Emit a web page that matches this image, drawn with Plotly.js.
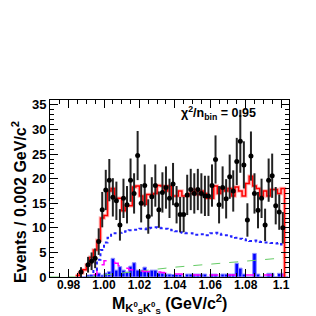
<!DOCTYPE html>
<html>
<head>
<meta charset="utf-8">
<script src="https://cdn.plot.ly/plotly-3.0.1.min.js"></script>
<style>html,body{margin:0;padding:0;background:#fff;}#chart{width:316px;height:316px;}</style>
</head>
<body>
<div id="chart"></div>
<script>
// ---------- data ----------
const binWidth = 0.002;
const binCenters = [0.985, 0.987, 0.989, 0.991, 0.993, 0.995, 0.997, 0.999, 1.001, 1.003,
  1.005, 1.007, 1.009, 1.011, 1.013, 1.015, 1.017, 1.019, 1.021, 1.023,
  1.025, 1.027, 1.029, 1.031, 1.033, 1.035, 1.037, 1.039, 1.041, 1.043,
  1.045, 1.047, 1.049, 1.051, 1.053, 1.055, 1.057, 1.059, 1.061, 1.063,
  1.065, 1.067, 1.069, 1.071, 1.073, 1.075, 1.077, 1.079, 1.081, 1.083,
  1.085, 1.087, 1.089, 1.091, 1.093, 1.095, 1.097, 1.099, 1.101, 1.103];

const dataCounts = [null, 1.0, null, 2.5, 3.2, 3.8, 7.2, 13.7, 17.7, 19.7,
  16.2, 15.5, 10.6, 16.0, 14.7, 19.7, 17.0, 24.7, 15.0, 18.6,
  12.3, 16.3, 18.6, 13.7, 17.2, 18.2, 16.0, 18.9, 14.7, 12.7,
  12.7, 16.7, 17.8, 17.0, 17.8, 17.0, 16.5, 16.5, 18.6, 23.9,
  14.7, 18.2, 15.9, 20.4, 17.5, 23.5, 27.6, 22.8, 11.6, 24.6,
  17.0, 13.6, 16.0, 10.6, 19.7, 20.6, 14.5, 13.2, 10.0, null];

const dataErrors = [null, 1.0, null, 1.6, 1.8, 2.0, 2.7, 3.6, 4.1, 4.3,
  3.9, 3.9, 3.2, 4.0, 3.8, 4.4, 4.1, 5.0, 3.9, 4.3,
  3.5, 4.0, 4.3, 3.7, 4.1, 4.3, 4.0, 4.3, 3.8, 3.6,
  3.6, 4.1, 4.2, 4.1, 4.2, 4.1, 4.1, 4.1, 4.3, 4.9,
  3.8, 4.3, 4.0, 4.5, 4.2, 4.8, 6.4, 4.8, 3.4, 5.0,
  4.1, 3.7, 4.0, 3.3, 4.4, 4.5, 3.8, 3.6, 3.2, null];

const fitTotal = [0.3, 0.8, 1.5, 2.5, 4.0, 5.5, 7.5, 12.0, 12.5, 17.5,
  18.0, 16.0, 16.0, 13.5, 14.5, 14.5, 18.3, 18.5, 16.5, 14.8,
  16.8, 16.8, 17.0, 18.6, 18.5, 17.5, 18.5, 16.5, 16.5, 17.5,
  16.5, 16.5, 17.0, 17.8, 16.8, 17.5, 17.0, 16.0, 16.0, 18.5,
  17.0, 18.0, 17.5, 18.0, 16.5, 18.3, 17.5, 16.5, 19.0, 20.5,
  18.5, 18.0, 16.5, 17.5, 16.5, 17.8, 17.8, 17.0, 18.0, null];

const signalComp = [null, null, null, null, 0.3, 1.5, 3.5, 5.5, 7.0, 8.0,
  8.6, 8.9, 9.0, 9.2, 9.3, 9.5, 9.6, 9.6, 9.8, 9.7,
  9.9, 10.0, 10.1, 10.0, 9.9, 9.8, 9.6, 9.5, 9.3, 9.1,
  9.0, 8.9, 8.9, 8.6, 8.6, 8.7, 8.7, 8.5, 8.9, 9.0,
  8.8, 8.6, 8.5, 8.3, 8.2, 8.0, 7.8, 7.7, 7.5, 7.3,
  7.4, 7.2, 7.1, 7.0, 7.0, 6.9, 6.8, 6.9, 6.6, null];

const magentaComp = [null, null, null, null, null, 0.5, 1.5, 2.5, 3.3, 3.3,
  3.0, 2.8, 2.3, 2.2, 1.8, 1.5, 1.4, 1.3, 1.2, 1.1,
  1.1, 1.0, 1.0, 1.0, 0.9, 0.8, 0.7, 0.7, 0.6, 0.6,
  0.5, 0.5, 0.5, 0.4, 0.4, 0.4, 0.4, 0.4, 0.4, 0.4,
  0.4, 0.4, 0.4, 0.4, 0.4, 0.4, 0.4, 0.4, 0.4, 0.4,
  0.4, 0.4, 0.4, 0.4, 0.4, 0.4, 0.4, 0.4, 0.4, null];

const sidebandBars = [0, 0, 0, 0.4, 0, 0.4, 0.8, 0.4, 0.8, 1.1,
  3.8, 1.4, 2.1, 1.4, 1.0, 2.2, 2.9, 1.4, 1.4, 2.0,
  1.1, 1.4, 1.4, 0.8, 0.8, 0.6, 0.6, 0.5, 0.5, 0.5,
  0, 0.6, 0.6, 0.6, 0.6, 0.6, 0.6, 0, 0.6, 0.6,
  0, 0.6, 0.6, 0.6, 0.6, 2.8, 1.8, 0.6, 0, 0,
  4.8, 0.6, 0, 0, 0.75, 0.75, 0, 0.75, 0.75, 0];

const greenX = [0.9695, 0.993, 1.0, 1.01, 1.02, 1.03, 1.04, 1.05, 1.06, 1.07, 1.08, 1.09, 1.1, 1.102, 1.102];
const greenY = [0, 0, 0.4, 0.75, 1.2, 1.6, 2.0, 2.3, 2.6, 2.9, 3.2, 3.5, 3.8, 3.9, 0];

const xTickVals = [0.98, 1.00, 1.02, 1.04, 1.06, 1.08, 1.10];
const xTickText = ['0.98', '1.00', '1.02', '1.04', '1.06', '1.08', '1.1'];
const yTickVals = [0, 5, 10, 15, 20, 25, 30, 35];

// ---------- helpers ----------
function steps(vals, dropToZero) {
  const xs = [], ys = [];
  let last = -1;
  for (let i = 0; i < vals.length; i++) {
    if (vals[i] === null) continue;
    xs.push(binCenters[i] - binWidth / 2);
    ys.push(vals[i]);
    last = i;
  }
  xs.push(binCenters[last] + binWidth / 2); ys.push(vals[last]);
  if (dropToZero) { xs.push(binCenters[last] + binWidth / 2); ys.push(0); }
  return {x: xs, y: ys};
}

const font = 'Liberation Sans, Arial, Helvetica, sans-serif';
const fitSteps = steps(fitTotal, true);
const sigSteps = steps(signalComp, false);
const magSteps = steps(magentaComp, false);

const traces = [
  {type: 'bar', x: binCenters, y: sidebandBars, width: binWidth,
   marker: {color: '#0000ff', line: {color: '#8f8fff', width: 1}}, hoverinfo: 'skip'},
  {type: 'scatter', mode: 'lines', x: greenX, y: greenY,
   line: {color: '#66cc66', width: 1, dash: 'dash'}},
  {type: 'scatter', mode: 'lines', x: magSteps.x, y: magSteps.y,
   line: {color: '#ff00ff', width: 1.5, dash: 'dash', shape: 'hv'}},
  {type: 'scatter', mode: 'lines', x: sigSteps.x, y: sigSteps.y,
   line: {color: '#2222ff', width: 2, dash: 'dot', shape: 'hv'}},
  {type: 'scatter', mode: 'lines', x: fitSteps.x, y: fitSteps.y,
   line: {color: 'rgba(255,120,120,0.55)', width: 3.5, shape: 'hv'}},
  {type: 'scatter', mode: 'lines', x: fitSteps.x, y: fitSteps.y,
   line: {color: '#ff0000', width: 1.5, shape: 'hv'}},
  {type: 'scatter', mode: 'markers', x: binCenters, y: dataCounts,
   marker: {color: '#000', size: 5},
   error_y: {type: 'data', array: dataErrors, visible: true, color: '#222', thickness: 2, width: 0}}
];

const axisCommon = {
  showline: true, linecolor: '#000', linewidth: 1, mirror: 'allticks',
  ticks: 'inside', ticklen: 8, tickwidth: 1, tickcolor: '#000',
  showgrid: false, zeroline: false,
  tickfont: {family: font, size: 13, color: '#000', weight: 'bold'}
};

const layout = {
  width: 316, height: 316,
  margin: {l: 50, r: 27, t: 100, b: 39},
  paper_bgcolor: '#fff', plot_bgcolor: '#fff',
  showlegend: false,
  xaxis: Object.assign({}, axisCommon, {
    range: [0.9695, 1.1045], tickmode: 'array', tickvals: xTickVals, ticktext: xTickText,
    ticklabelstandoff: -3,
    minor: {tick0: 0.98, dtick: 0.005, ticklen: 4, ticks: 'inside', tickcolor: '#000'},
    tickfont: {family: font, size: 12, color: '#000', weight: 'bold'}
  }),
  yaxis: Object.assign({}, axisCommon, {
    range: [0, 36], tickmode: 'array', tickvals: yTickVals,
    minor: {tick0: 0, dtick: 1, ticklen: 4, ticks: 'inside', tickcolor: '#000'}
  }),
  annotations: [
    {xref: 'paper', yref: 'paper', x: -0.13, y: 0.424, textangle: -90,
     xanchor: 'center', yanchor: 'middle', showarrow: false,
     text: 'Events / 0.002 GeV/c<sup>2</sup>',
     font: {family: font, size: 16, color: '#000', weight: 'bold'}},
    {xref: 'paper', yref: 'paper', x: 0.5, y: -0.152,
     xanchor: 'center', yanchor: 'middle', showarrow: false,
     text: 'M<sub>K<sup>0</sup><sub>S</sub>K<sup>0</sup><sub>S</sub></sub> (GeV/c<sup>2</sup>)',
     font: {family: font, size: 16, color: '#000', weight: 'bold'}},
    {xref: 'paper', yref: 'paper', x: 0.705, y: 0.927,
     xanchor: 'center', yanchor: 'middle', showarrow: false,
     text: 'χ<sup>2</sup>/n<sub>bin</sub> = 0.95',
     font: {family: font, size: 12.5, color: '#000', weight: 'bold'}}
  ]
};

Plotly.newPlot('chart', traces, layout, {staticPlot: true, displayModeBar: false});
</script>
</body>
</html>
